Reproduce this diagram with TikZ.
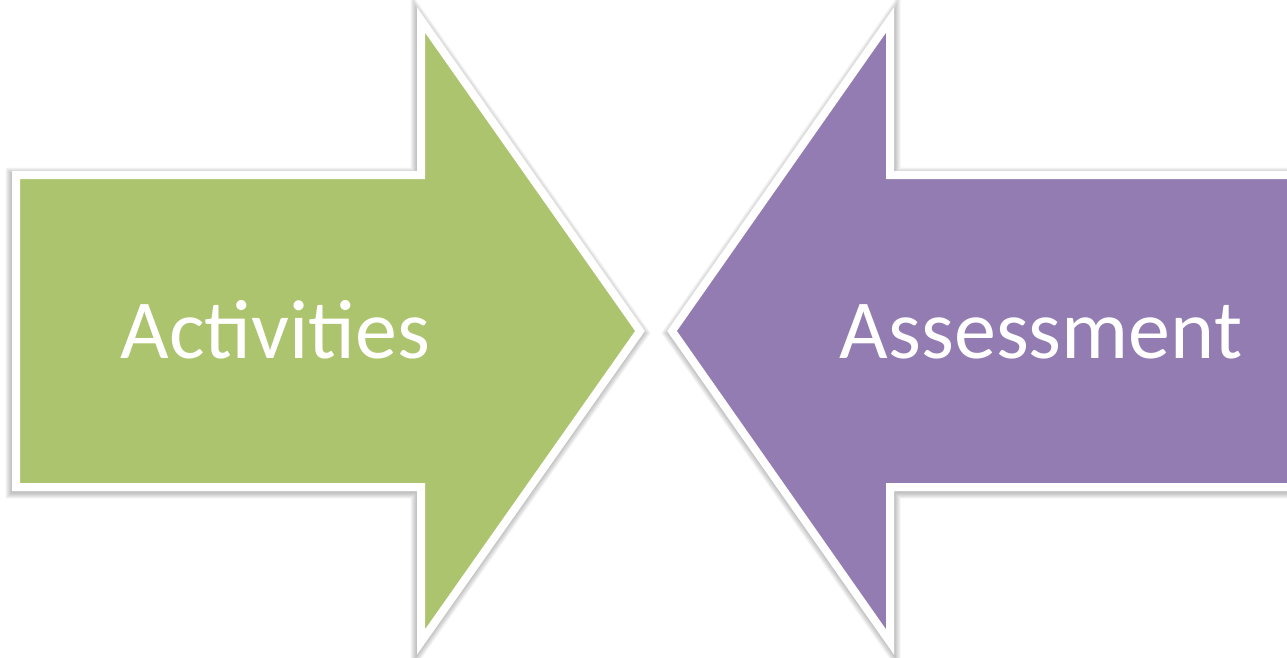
\documentclass[tikz,border=0pt]{standalone}
\usepackage{fontspec}
\setmainfont{Carlito}
\definecolor{leafgreen}{RGB}{173,196,111}
\definecolor{lavender}{RGB}{147,124,177}
\begin{document}
\begin{tikzpicture}[x=1pt,y=-1pt,
  rightarrow/.style={insert path={(16,175) -- (421,175) -- (421,20) -- (640,331) -- (421,642) -- (421,487) -- (16,487) -- cycle}},
  leftarrow/.style={insert path={(1300,175) -- (890,175) -- (890,20) -- (672,331) -- (890,642) -- (890,487) -- (1300,487) -- cycle}},
  arrowbody/.style={draw=white, line width=8pt, line join=miter},
  softshadow/.style={draw=black, fill=black, draw opacity=0.045, fill opacity=0.045, line join=miter},
  label/.style={font=\fontsize{84}{92}\selectfont, text=white, anchor=base, inner sep=0pt}]
  \useasboundingbox (0,0) rectangle (1287,658);
  \clip (0,0) rectangle (1287,658);
  % soft drop shadows, built from stacked translucent strokes
  \foreach \w in {9,11,13,15,17,19} {
    \path[softshadow, line width=\w pt, shift={(-1,2)}, rightarrow];
    \path[softshadow, line width=\w pt, shift={(1,2)}, leftarrow];
  }
  % the two arrows
  \path[arrowbody, fill=leafgreen, rightarrow];
  \path[arrowbody, fill=lavender, leftarrow];
  % labels
  \node[label] (activities) at (275.5,358.5) {Activities};
  \node[label] (assessment) at (1041,358.5) {Assessment};
\end{tikzpicture}
\end{document}
